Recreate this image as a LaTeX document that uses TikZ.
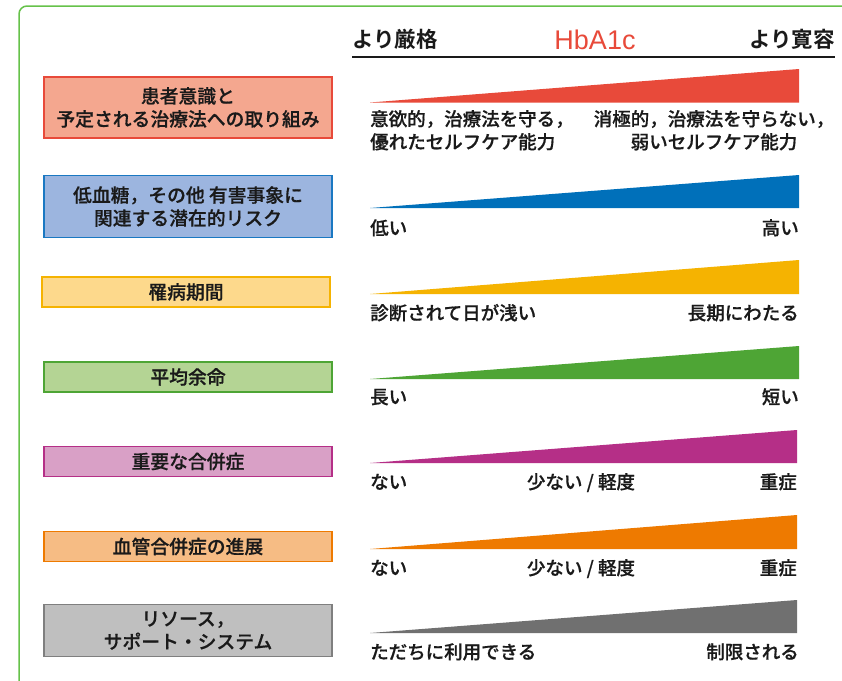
\documentclass[tikz,border=0pt]{standalone}
\usepackage{fontspec}
\newfontfamily\jp{Noto Sans CJK JP}[UprightFont={* Medium},BoldFont={* Bold},FakeBold=0.6]
\newfontfamily\jpb{Noto Sans CJK JP Bold}
\newfontfamily\lat{Liberation Sans}
\definecolor{txt}{HTML}{1A1A1A}
\definecolor{frameg}{HTML}{66C24A}
\definecolor{redT}{HTML}{E84A3A}\definecolor{redF}{HTML}{F4A78F}
\definecolor{bluT}{HTML}{0070BA}\definecolor{bluF}{HTML}{9CB5DF}\definecolor{bluB}{HTML}{1A78C2}
\definecolor{yelT}{HTML}{F5B301}\definecolor{yelF}{HTML}{FDD98C}
\definecolor{grnT}{HTML}{4EA535}\definecolor{grnF}{HTML}{B4D494}
\definecolor{pnkT}{HTML}{B52F87}\definecolor{pnkF}{HTML}{D9A0C6}
\definecolor{orgT}{HTML}{EE7A00}\definecolor{orgF}{HTML}{F6BC84}
\definecolor{gryT}{HTML}{707070}\definecolor{gryF}{HTML}{BFBFBF}\definecolor{gryB}{HTML}{7F7F7F}
\begin{document}
\begin{tikzpicture}[x=1pt,y=-1pt,
  factor/.style={draw, line width=1.6pt, inner sep=0pt, align=center, text=txt,
     font=\jp\fontsize{18.8}{23}\selectfont},
  lab/.style={inner sep=0pt, text=txt, text height=0.88em, text depth=0.12em,
     font=\jp\fontsize{18.5}{23}\selectfont},
  head/.style={inner sep=0pt, text=txt, text height=0.88em, text depth=0.12em,
     font=\jpb\fontsize{21.5}{24}\selectfont}]
\useasboundingbox (0,0) rectangle (842,680);
\fill[white] (0,0) rectangle (842,680);
% frame
\draw[frameg, line width=1.5pt, rounded corners=8pt] (19,700) -- (19,6) -- (860,6);
% header
\node[head, anchor=west] (hl) at (352,44) {より厳格};
\node[head, anchor=east] (hr) at (835,44) {より寛容};
\node[inner sep=0pt, text=redT, font=\lat\fontsize{27}{28}\selectfont] (hb) at (595,40) {HbA1c};
\coordinate (ul) at (352,57); \coordinate (ur) at (835,57);
\draw[txt, line width=1.8pt] (ul) -- (ur);
% boxes
\node[factor, fill=redF, draw=redT, minimum width=288pt, minimum height=61pt] (b1) at (188,107.5) {患者意識と\\予定される治療法への取り組み};
\node[factor, fill=bluF, draw=bluB, minimum width=288pt, minimum height=62pt] (b2) at (188,206.5) {低血糖，その他 有害事象に\\関連する潜在的リスク};
\node[factor, fill=yelF, draw=yelT, minimum width=288pt, minimum height=30pt] (b3) at (186,292) {罹病期間};
\node[factor, fill=grnF, draw=grnT, minimum width=288pt, minimum height=30pt] (b4) at (188,377) {平均余命};
\node[factor, fill=pnkF, draw=pnkT, minimum width=288pt, minimum height=30pt] (b5) at (188,461.5) {重要な合併症};
\node[factor, fill=orgF, draw=orgT, minimum width=288pt, minimum height=30pt] (b6) at (188,546.5) {血管合併症の進展};
\node[factor, fill=gryF, draw=gryB, minimum width=288pt, minimum height=52pt] (b7) at (188,630.5) {リソース，\\サポート・システム};
% wedges
\fill[redT] (370,102.5) -- (799,69) -- (799,102.5) -- cycle;
\fill[bluT] (370,208) -- (799,175) -- (799,208) -- cycle;
\fill[yelT] (370,294) -- (799,260) -- (799,294) -- cycle;
\fill[grnT] (370,379) -- (799,346) -- (799,379) -- cycle;
\fill[pnkT] (370,463) -- (797,430) -- (797,463) -- cycle;
\fill[orgT] (370,549) -- (797,515) -- (797,549) -- cycle;
\fill[gryT] (370,633) -- (797,600) -- (797,633) -- cycle;
% labels
\node[lab, anchor=west] (l1a) at (370,122) {意欲的，治療法を守る，};
\node[lab, anchor=west] (l1b) at (370,145) {優れたセルフケア能力};
\node[lab] (r1a) at (714,122) {消極的，治療法を守らない，};
\node[lab] (r1b) at (714,145) {弱いセルフケア能力};
\node[lab, anchor=west] (l2) at (370,231) {低い};
\node[lab, anchor=east] (r2) at (799,231) {高い};
\node[lab, anchor=west] (l3) at (370,316) {診断されて日が浅い};
\node[lab, anchor=east] (r3) at (799,316) {長期にわたる};
\node[lab, anchor=west] (l4) at (370,400) {長い};
\node[lab, anchor=east] (r4) at (799,400) {短い};
\node[lab, anchor=west] (l5) at (370,485) {ない};
\node[lab] (m5) at (581,485) {少ない / 軽度};
\node[lab, anchor=east] (r5) at (797,485) {重症};
\node[lab, anchor=west] (l6) at (370,571) {ない};
\node[lab] (m6) at (581,571) {少ない / 軽度};
\node[lab, anchor=east] (r6) at (797,571) {重症};
\node[lab, anchor=west] (l7) at (370,655) {ただちに利用できる};
\node[lab, anchor=east] (r7) at (799,655) {制限される};
\end{tikzpicture}
\end{document}
